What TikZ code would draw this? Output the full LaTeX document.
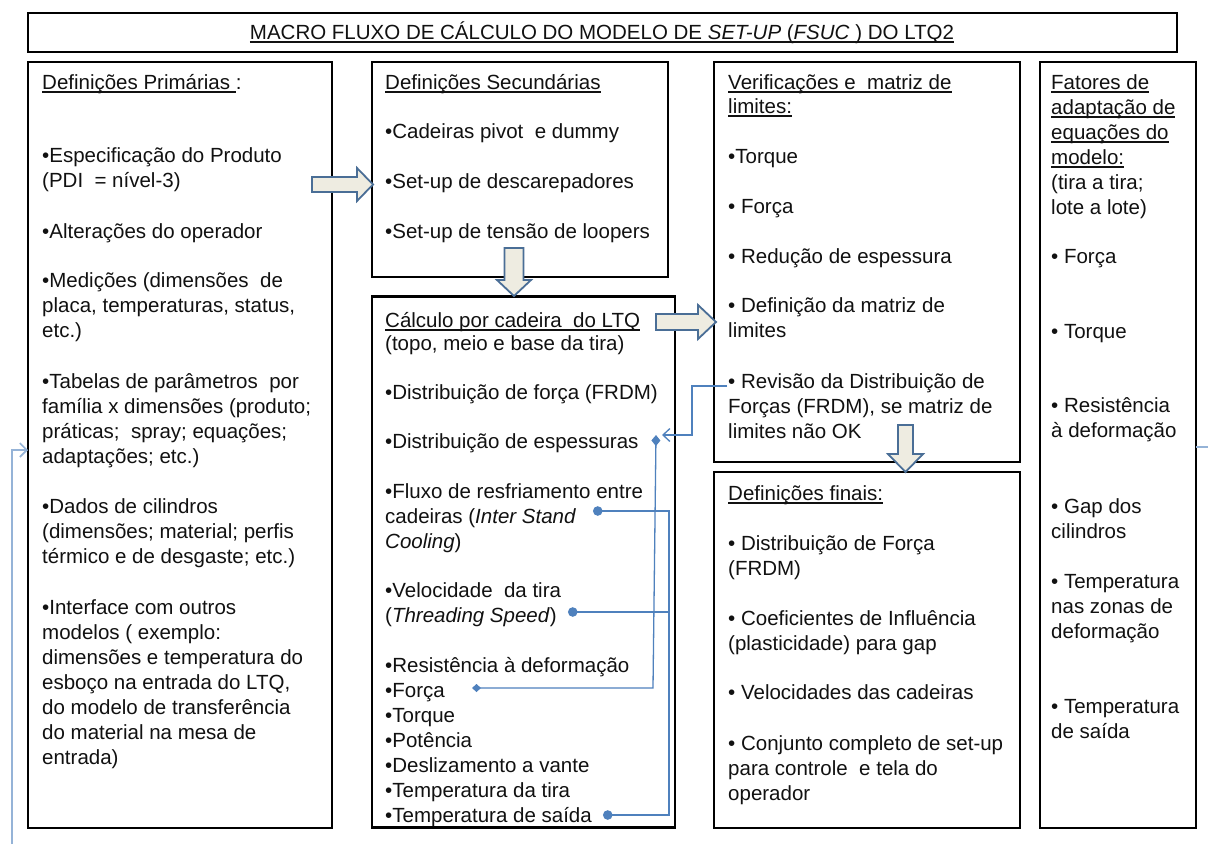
\documentclass[tikz,border=0pt]{standalone}
\usepackage{fontspec}
\setmainfont{Liberation Sans}
\newcommand{\myul}[1]{\setbox0\hbox{#1}\rlap{\rule[-3.6pt]{\wd0}{1.2pt}}\box0}
\usetikzlibrary{arrows.meta}
\definecolor{txt}{HTML}{111111}
\definecolor{lnblue}{HTML}{4F81BD}
\definecolor{ltblue}{HTML}{95B3D7}
\definecolor{arrfill}{HTML}{EEECE1}
\definecolor{arrdraw}{HTML}{4A6E96}
\begin{document}
\begin{tikzpicture}[x=1pt,y=-1pt,
  panel/.style={draw=black,line width=2.5pt,inner sep=0pt,fill=white},
  body/.style={anchor=base west,align=left,inner sep=0pt,font=\fontsize{20.5}{25}\selectfont,text=txt},
  blockarrow/.style={fill=arrfill,draw=arrdraw,line width=1.8pt,line join=miter},
  link/.style={draw=lnblue,line width=1.3pt},
  lightlink/.style={draw=ltblue,line width=2pt},
  barb/.style={-{Straight Barb[length=7pt,width=13pt,line width=1.3pt]}},
  bigdia/.tip={Diamond[length=11pt,width=9pt]},
  smalldia/.tip={Diamond[length=9pt,width=8pt]},
  bigdot/.tip={Circle[length=9.5pt]},
]
\useasboundingbox (0,0) rectangle (1208,844);
\fill[white] (0,0) rectangle (1208,844);

% panels
\node[panel,minimum width=1149pt,minimum height=39pt] (title) at (602.5,32.5) {};
\node[panel,minimum width=304pt,minimum height=766pt] (b1) at (180,445) {};
\node[panel,minimum width=296pt,minimum height=215pt] (b2) at (520,169.5) {};
\node[panel,minimum width=303pt,minimum height=531pt] (b3) at (523.5,562) {};
\node[panel,minimum width=306pt,minimum height=400pt] (b4) at (867,262) {};
\node[panel,minimum width=306pt,minimum height=356pt] (b5) at (867,650) {};
\node[panel,minimum width=156pt,minimum height=766pt] (b6) at (1118,445) {};

% title
\node[font=\fontsize{20.5}{25}\selectfont,text=txt,inner sep=0pt,anchor=base] (ttl) at (602,39)
  {\myul{MACRO FLUXO DE CÁLCULO DO MODELO DE \textit{SET-UP} (\textit{FSUC} ) DO LTQ2}};

% box 1 (anchored at the baseline of its last line)
\node[body] (t1) at (42,764) {\myul{Definições Primárias\ }:\\[48pt]
•Especificação do Produto\\
(PDI\ \ = nível-3)\\[26pt]
•Alterações do operador\\[24pt]
•Medições (dimensões\ \ de\\
placa, temperaturas, status,\\
etc.)\\[26pt]
•Tabelas de parâmetros\ \ por\\
família x dimensões (produto;\\
práticas;\ \ spray; equações;\\
adaptações; etc.)\\[25pt]
•Dados de cilindros\\
(dimensões; material; perfis\\
térmico e de desgaste; etc.)\\[26pt]
•Interface com outros\\
modelos ( exemplo:\\
dimensões e temperatura do\\
esboço na entrada do LTQ,\\
do modelo de transferência\\
do material na mesa de\\
entrada)};

% box 2
\node[body] (t2) at (385,238) {\myul{Definições Secundárias}\\[24pt]
•Cadeiras pivot\ \ e dummy\\[25pt]
•Set-up de descarepadores\\[25pt]
•Set-up de tensão de loopers};

% box 3
\node[body] (t3) at (385,822) {\myul{Cálculo por cadeira\ \ do LTQ}\\[-2pt]
(topo, meio e base da tira)\\[24pt]
•Distribuição de força (FRDM)\\[24pt]
•Distribuição de espessuras\\[25pt]
•Fluxo de resfriamento entre\\
cadeiras (\textit{Inter Stand}\\
\textit{Cooling})\\[24pt]
•Velocidade\ \ da tira\\
(\textit{Threading Speed})\\[25pt]
•Resistência à deformação\\
•Força\\
•Torque\\
•Potência\\
•Deslizamento a vante\\
•Temperatura da tira\\
•Temperatura de saída};

% box 4
\node[body] (t4) at (728,438) {\myul{Verificações e\ \ matriz de}\\[-1pt]
\myul{limites:}\\[25pt]
•Torque\\[25pt]
• Força\\[25pt]
• Redução de espessura\\[24pt]
• Definição da matriz de\\
limites\\[26pt]
• Revisão da Distribuição de\\
Forças (FRDM), se matriz de\\
limites não OK};

% box 5
\node[body] (t5) at (728,800) {\myul{Definições finais:}\\[25pt]
• Distribuição de Força\\
(FRDM)\\[25pt]
• Coeficientes de Influência\\
(plasticidade) para gap\\[24pt]
• Velocidades das cadeiras\\[26pt]
• Conjunto completo de set-up\\
para controle\ \ e tela do\\
operador};

% box 6
\node[body] (t6) at (1051,738) {\myul{Fatores de}\\
\myul{adaptação de}\\
\myul{equações do}\\
\myul{modelo:}\\
(tira a tira;\\
lote a lote)\\[24pt]
• Força\\[50pt]
• Torque\\[49pt]
• Resistência\\
à deformação\\[51pt]
• Gap dos\\
cilindros\\[25pt]
• Temperatura\\
nas zonas de\\
deformação\\[50pt]
• Temperatura\\
de saída};

% block arrows
\draw[blockarrow] (312,177) -- (357,177) -- (357,168) -- (373,184.5) -- (357,201) -- (357,192) -- (312,192) -- cycle;
\draw[blockarrow] (504.5,248) -- (523.5,248) -- (523.5,280) -- (531,280) -- (514,296) -- (497,280) -- (504.5,280) -- cycle;
\draw[blockarrow] (656,314) -- (698,314) -- (698,305) -- (716,322) -- (698,339) -- (698,330) -- (656,330) -- cycle;
\draw[blockarrow] (898,425) -- (913,425) -- (913,454) -- (923,454) -- (905.5,472) -- (888,454) -- (898,454) -- cycle;

% connector endpoints
\coordinate (rev) at (727,386);
\coordinate (esp) at (656,435);
\coordinate (espTip) at (662,435);
\coordinate (forca) at (472,688);
\coordinate (isc) at (593,511);
\coordinate (thr) at (568,612);
\coordinate (tsai) at (603,815);
\coordinate (lfoot) at (12,844);
\coordinate (lin) at (28,450);
\coordinate (rout) at (1208,447);
\coordinate (rin) at (1196,447);

% connectors
\draw[link,barb] (rev) -- (692,386) |- (espTip);
\draw[link,{bigdia}-{smalldia}] (esp) -- (653,688) -- (forca);
\draw[link,{bigdot}-{bigdot}] (isc) -- (669,511) -- (669,815) -- (tsai);
\draw[link,{bigdot}-] (thr) -- (669,612);
\draw[lightlink,-{Straight Barb[length=7pt,width=14pt,line width=1.6pt]}] (lfoot) |- (lin);
\draw[lightlink] (rin) -- (rout);
\end{tikzpicture}
\end{document}
